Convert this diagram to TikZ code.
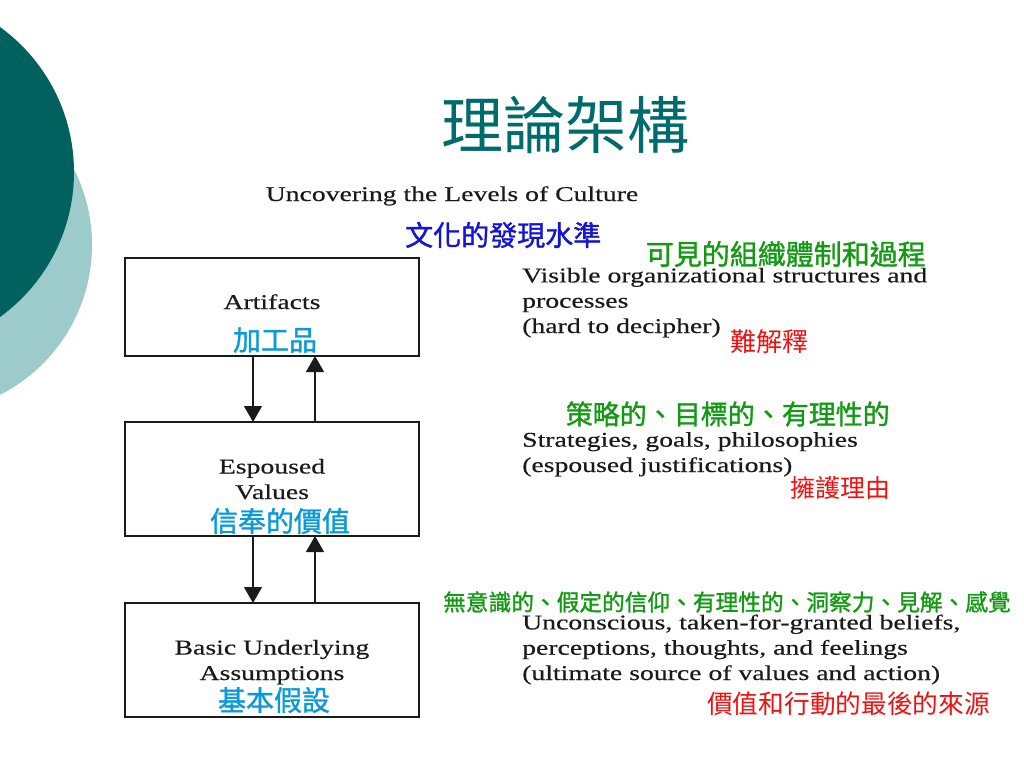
\documentclass[tikz,border=0pt]{standalone}
\usepackage{fontspec}
\usetikzlibrary{arrows.meta}
\newfontfamily\cjk{Noto Sans CJK TC}
\newfontfamily\cjkmed[FakeBold=1.2]{Noto Sans CJK TC}
\newfontfamily\serifw[FakeStretch=1.32,FakeBold=0.4]{Liberation Serif}
\definecolor{darkteal}{HTML}{00615F}
\definecolor{lightteal}{HTML}{9DCBCB}
\definecolor{titleteal}{HTML}{006B6B}
\definecolor{cjkblue}{HTML}{1414D2}
\definecolor{cjkgreen}{HTML}{139A13}
\definecolor{cjkred}{HTML}{F01010}
\definecolor{cjklblue}{HTML}{0A9AD8}
\definecolor{ink}{HTML}{1A1A1A}
\tikzset{
  levelbox/.style={draw=ink, line width=1.4pt},
  en/.style={font=\serifw\fontsize{21}{25.3}\selectfont, text=ink, inner sep=0pt, align=left, anchor=base west},
  enc/.style={font=\serifw\fontsize{21}{25.5}\selectfont, text=ink, inner sep=0pt, align=center, anchor=base},
  zh/.style={font=\cjk\fontsize{#1}{#1}\selectfont, inner sep=0pt},
  zhb/.style={font=\cjkmed\fontsize{#1}{#1}\selectfont, inner sep=0pt},
  flow/.style={draw=ink, line width=1.3pt, -{Triangle[width=18pt,length=16pt]}}
}
\begin{document}
\begin{tikzpicture}[x=1pt,y=-1pt]
\useasboundingbox (0,0) rectangle (1024,768);
\fill[white] (0,0) rectangle (1024,768);
% decorative circles
\begin{scope}
\clip (0,0) rectangle (1024,768);
\fill[lightteal] (-76,245) circle[radius=168];
\fill[darkteal] (-105,172) circle[radius=179];
\end{scope}
% title
\node[zh=62, text=titleteal] (title) at (565,125) {理論架構};
\node[enc] (unc) at (452,201) {Uncovering the Levels of Culture};
\node[zhb=28, text=cjkblue, anchor=west] (uncz) at (405,235) {文化的發現水準};
% boxes
\draw[levelbox] (125,258) rectangle (419,356);
\draw[levelbox] (125,422) rectangle (419,536);
\draw[levelbox] (125,603) rectangle (419,717);
\node[enc] (art) at (272,309) {Artifacts};
\node[zhb=28, text=cjklblue] (artz) at (275,340) {加工品};
\node[enc] (esp) at (272,499) {Espoused\\Values};
\node[zhb=28, text=cjklblue] (espz) at (280,521) {信奉的價值};
\node[enc] (bas) at (272,680) {Basic Underlying\\Assumptions};
\node[zhb=28, text=cjklblue] (basz) at (274,700) {基本假設};
% arrows
\coordinate (d1s) at (253,356);
\coordinate (d1e) at (253,422);
\coordinate (u1s) at (315,422);
\coordinate (u1e) at (315,356);
\coordinate (d2s) at (253,536);
\coordinate (d2e) at (253,603);
\coordinate (u2s) at (315,603);
\coordinate (u2e) at (315,536);
\draw[flow] (d1s) -- (d1e);
\draw[flow] (u1s) -- (u1e);
\draw[flow] (d2s) -- (d2e);
\draw[flow] (u2s) -- (u2e);
% right descriptions
\node[zhb=28, text=cjkgreen, anchor=east] (g1) at (926,254) {可見的組織體制和過程};
\node[en] (t1) at (522,333) {Visible organizational structures and\\processes\\(hard to decipher)};
\node[zh=26, text=cjkred, anchor=west] (r1) at (730,342) {難解釋};
\node[zhb=27, text=cjkgreen, anchor=east] (g2) at (890,414) {策略的、目標的、有理性的};
\node[en] (t2) at (522,472) {Strategies, goals, philosophies\\(espoused justifications)};
\node[zh=25, text=cjkred, anchor=west] (r2) at (790,488) {擁護理由};
\node[zhb=22.7, text=cjkgreen, anchor=west] (g3) at (443,602) {無意識的、假定的信仰、有理性的、洞察力、見解、感覺};
\node[en] (t3) at (522,680) {Unconscious, taken-for-granted beliefs,\\perceptions, thoughts, and feelings\\(ultimate source of values and action)};
\node[zh=25.7, text=cjkred, anchor=west] (r3) at (707,704) {價值和行動的最後的來源};
\end{tikzpicture}
\end{document}
